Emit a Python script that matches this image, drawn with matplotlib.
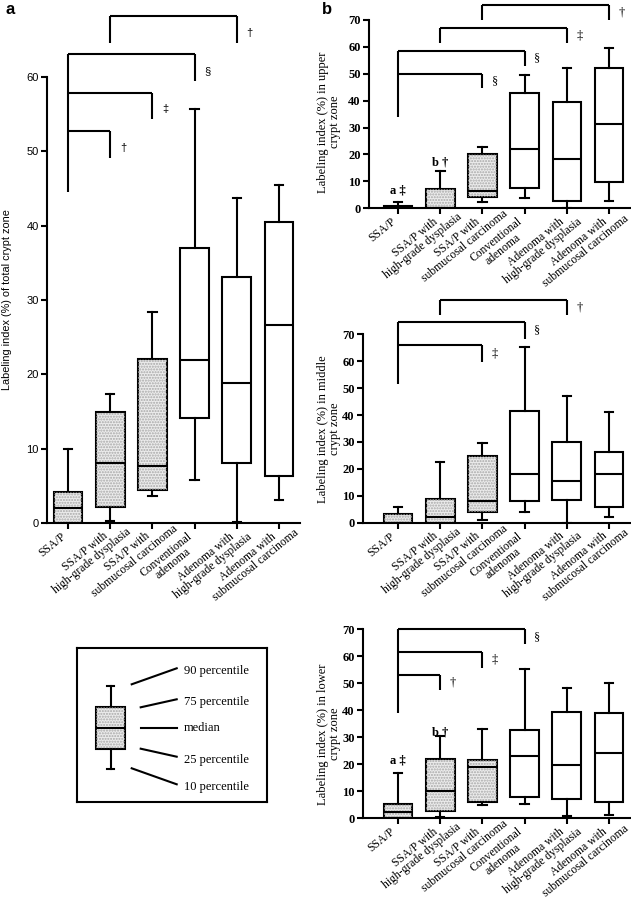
import math
import matplotlib
matplotlib.use("Agg")
import matplotlib.pyplot as plt
from matplotlib.patches import Rectangle
from matplotlib.font_manager import FontProperties
from matplotlib.transforms import offset_copy

# ---------------- data ----------------
categories = ["SSA/P", "SSA/P with\nhigh-grade dysplasia", "SSA/P with\nsubmucosal carcinoma",
              "Conventional\nadenoma", "Adenoma with\nhigh-grade dysplasia", "Adenoma with\nsubmucosal carcinoma"]
stippled = [True, True, True, False, False, False]

# panel a: total crypt zone  (p10, q1, median, q3, p90)
total_p10 = [0.0, 0.3, 3.6, 5.8, 0.2, 3.1]
total_q1 = [0.0, 2.1, 4.4, 14.1, 8.1, 6.3]
total_med = [2.0, 8.1, 7.7, 21.9, 18.8, 26.6]
total_q3 = [4.2, 14.9, 22.1, 37.0, 33.1, 40.5]
total_p90 = [10.0, 17.4, 28.4, 55.7, 43.7, 45.5]

# panel b upper crypt zone
upper_p10 = [0.0, 0.0, 2.5, 3.8, 0.0, 2.6]
upper_q1 = [0.0, 0.0, 4.3, 7.5, 2.6, 9.7]
upper_med = [0.3, 0.0, 6.3, 21.9, 18.3, 31.2]
upper_q3 = [1.0, 7.3, 20.2, 42.7, 39.4, 52.0]
upper_p90 = [2.5, 13.9, 22.9, 49.4, 52.0, 59.5]

# panel b middle crypt zone
middle_p10 = [0.0, 0.0, 1.0, 4.0, 0.0, 2.2]
middle_q1 = [0.0, 0.0, 4.0, 8.0, 8.4, 5.8]
middle_med = [0.0, 2.2, 8.0, 18.1, 15.5, 18.2]
middle_q3 = [3.2, 8.8, 24.7, 41.6, 30.0, 26.4]
middle_p90 = [5.7, 22.5, 29.7, 65.4, 47.0, 41.0]

# panel b lower crypt zone
lower_p10 = [0.0, 0.6, 4.8, 5.2, 0.9, 1.3]
lower_q1 = [0.0, 2.7, 6.1, 8.0, 7.3, 6.1]
lower_med = [2.4, 10.1, 19.0, 23.0, 19.6, 24.2]
lower_q3 = [5.2, 22.0, 21.6, 32.7, 39.4, 39.0]
lower_p90 = [16.7, 30.5, 33.1, 55.4, 48.4, 50.0]

# significance brackets: (left group, right group, bar height, left foot, right foot, symbol)
total_brackets = [(0, 1, 52.8, None, 49.1, "\u2020"), (0, 2, 57.9, None, 54.4, "\u2021"),
                  (0, 3, 63.1, 44.5, 59.5, "\u00a7"), (1, 4, 68.2, 64.6, 64.6, "\u2020")]
upper_brackets = [(0, 2, 50.1, None, 44.6, "\u00a7"), (0, 3, 58.6, 33.8, 53.0, "\u00a7"),
                  (1, 4, 66.9, 61.3, 61.3, "\u2021"), (2, 5, 75.7, 70.0, 70.0, "\u2020")]
middle_brackets = [(0, 2, 66.0, None, 59.8, "\u2021"), (0, 3, 74.5, 51.6, 68.2, "\u00a7"),
                   (1, 4, 82.7, 77.2, 77.2, "\u2020")]
lower_brackets = [(0, 1, 53.0, None, 47.5, "\u2020"), (0, 2, 61.5, None, 55.8, "\u2021"),
                  (0, 3, 70.0, 38.9, 64.4, "\u00a7")]

# group letters above boxes
upper_marks = [(0, 6.8, "a \u2021"), (1, 17.2, "b \u2020")]
lower_marks = [(0, 21.3, "a \u2021"), (1, 31.8, "b \u2020")]

legend_labels = ["90 percentile", "75 percentile", "median", "25 percentile", "10 percentile"]

# ---------------- style ----------------
SERIF = ["Liberation Serif", "DejaVu Serif"]
SANS = ["Liberation Sans", "DejaVu Sans"]
LW = 1.5
W, H = 631, 898
fig = plt.figure(figsize=(W / 100, H / 100), dpi=100)
renderer = fig.canvas.get_renderer()


def px_axes(left, right, top, bottom):
    return fig.add_axes([left / W, 1 - bottom / H, (right - left) / W, (bottom - top) / H])


def draw_boxes(ax, p10, q1, med, q3, p90):
    stats = [dict(whislo=a, q1=b, med=c, q3=d, whishi=e, fliers=[])
             for a, b, c, d, e in zip(p10, q1, med, q3, p90)]
    res = ax.bxp(stats, positions=range(len(stats)), widths=0.68, capwidths=0.2,
                 patch_artist=True, showfliers=False,
                 boxprops=dict(facecolor="white", edgecolor="black", linewidth=LW),
                 medianprops=dict(color="black", linewidth=LW),
                 whiskerprops=dict(color="black", linewidth=LW),
                 capprops=dict(color="black", linewidth=LW))
    for i, box in enumerate(res["boxes"]):
        if stippled[i]:
            box.set_facecolor("#ececec")
            ax.add_patch(Rectangle((i - 0.34, q1[i]), 0.68, q3[i] - q1[i], facecolor="none",
                                   edgecolor="#a8a8a8", hatch="......", linewidth=0, zorder=2.05))


def draw_brackets(ax, brackets, fs, font, dx=0.25, dy=-1.5):
    for g0, g1, yh, f0, f1, sym in brackets:
        kw = dict(color="black", linewidth=LW, clip_on=False, solid_capstyle="butt")
        ax.plot([g0, g1], [yh, yh], **kw)
        if f0 is not None:
            ax.plot([g0, g0], [f0, yh], **kw)
        ax.plot([g1, g1], [yh, f1], **kw)
        ax.text(g1 + dx, yh + dy - (yh - f1) / 2, sym, fontsize=fs, family=font,
                ha="center", va="center", clip_on=False)


def category_labels(ax, fs=8.4, angle=39, dx=-4, dy=-12, lead=11.3):
    """First line ends just left of/below the tick; the second line is centred under it."""
    prop = FontProperties(family=SERIF, size=fs)
    th = math.radians(angle)
    base = ax.get_xaxis_transform()
    for i, lab in enumerate(categories):
        lines = lab.split("\n")
        w1, _, _ = renderer.get_text_width_height_descent(lines[0], prop, ismath=False)
        ax.text(i, 0, lines[0], fontproperties=prop, rotation=angle, rotation_mode="anchor",
                ha="right", va="center", transform=offset_copy(base, fig=fig, x=dx, y=dy, units="dots"),
                clip_on=False)
        if len(lines) > 1:
            cx = dx - (w1 / 2) * math.cos(th) + lead * math.sin(th)
            cy = dy - (w1 / 2) * math.sin(th) - lead * math.cos(th)
            ax.text(i, 0, lines[1], fontproperties=prop, rotation=angle, rotation_mode="anchor",
                    ha="center", va="center", transform=offset_copy(base, fig=fig, x=cx, y=cy, units="dots"),
                    clip_on=False)


def style_axes(ax, ytop, xlim, yticks, tickfont, tickfs, tickweight):
    ax.set_xlim(*xlim)
    ax.set_ylim(0, ytop)
    for s in ("top", "right"):
        ax.spines[s].set_visible(False)
    ax.spines["left"].set_bounds(0, yticks[-1])
    ax.spines["left"].set_linewidth(LW)
    ax.spines["bottom"].set_linewidth(LW)
    ax.set_yticks(yticks)
    ax.set_yticklabels([str(t) for t in yticks], family=tickfont, fontsize=tickfs, fontweight=tickweight)
    ax.tick_params(axis="both", direction="out", length=4, width=LW, pad=2)
    ax.set_xticks(range(len(categories)))
    ax.set_xticklabels([])
    category_labels(ax)
    ax.patch.set_alpha(0)


# ---------------- panel a ----------------
axa = px_axes(47, 300, 10, 523)
draw_boxes(axa, total_p10, total_q1, total_med, total_q3, total_p90)
style_axes(axa, 513 / 7.433, (-0.5, 5.5), [0, 10, 20, 30, 40, 50, 60], SANS, 8, "normal")
draw_brackets(axa, total_brackets, 8, SANS, dx=0.3, dy=-0.5)
axa.set_ylabel("Labeling index (%) of total crypt zone", family=SANS, fontsize=7.8)
axa.yaxis.set_label_coords((12 - 47) / 253, (523 - 300) / 513)

# ---------------- panel b ----------------
ylab_b = ["Labeling index (%) in upper\ncrypt zone", "Labeling index (%) in middle\ncrypt zone",
          "Labeling index (%) in lower\ncrypt zone"]
axu = px_axes(369, 631, 2, 208.3)
draw_boxes(axu, upper_p10, upper_q1, upper_med, upper_q3, upper_p90)
style_axes(axu, 206.3 / 2.690, (-0.69, 5.52), [0, 10, 20, 30, 40, 50, 60, 70], SERIF, 9, "bold")
draw_brackets(axu, upper_brackets, 9, SERIF, dx=0.3, dy=0)
for g, y, t in upper_marks:
    axu.text(g, y, t, family=SERIF, fontsize=9, fontweight="bold", ha="center", va="center")

axm = px_axes(363, 631, 295, 522.7)
draw_boxes(axm, middle_p10, middle_q1, middle_med, middle_q3, middle_p90)
style_axes(axm, 227.7 / 2.691, (-0.83, 5.52), [0, 10, 20, 30, 40, 50, 60, 70], SERIF, 9, "bold")
draw_brackets(axm, middle_brackets, 9, SERIF, dx=0.3, dy=0)

axl = px_axes(363, 631, 624, 818.3)
draw_boxes(axl, lower_p10, lower_q1, lower_med, lower_q3, lower_p90)
style_axes(axl, 194.3 / 2.70, (-0.83, 5.52), [0, 10, 20, 30, 40, 50, 60, 70], SERIF, 9, "bold")
draw_brackets(axl, lower_brackets, 9, SERIF, dx=0.3, dy=0)
for g, y, t in lower_marks:
    axl.text(g, y, t, family=SERIF, fontsize=9, fontweight="bold", ha="center", va="center")

for ax, lab, yc in zip([axu, axm, axl], ylab_b, [122, 429, 734]):
    bb = ax.get_position()
    yfrac = ((1 - yc / H) - bb.y0) / bb.height
    xfrac = ((341 / W) - bb.x0) / bb.width
    ax.set_ylabel(lab, family=SERIF, fontsize=9, linespacing=1.0)
    ax.yaxis.set_label_coords(xfrac, yfrac)

# panel letters
fig.text(5 / W, 1 - 10 / H, "a", family=SANS, fontsize=12, fontweight="bold", va="center", ha="left")
fig.text(322 / W, 1 - 10 / H, "b", family=SANS, fontsize=12, fontweight="bold", va="center", ha="left")

# ---------------- legend key ----------------
axk = px_axes(76.7, 266.7, 648.3, 802.3)
key_stats = [dict(whislo=33, q1=53.3, med=74, q3=95.6, whishi=116.6, fliers=[])]
kres = axk.bxp(key_stats, positions=[34], widths=29, capwidths=6.5, patch_artist=True, showfliers=False,
               boxprops=dict(facecolor="#ececec", edgecolor="black", linewidth=LW),
               medianprops=dict(color="black", linewidth=LW),
               whiskerprops=dict(color="black", linewidth=LW),
               capprops=dict(color="black", linewidth=LW))
axk.add_patch(Rectangle((34 - 14.5, 53.3), 29, 95.6 - 53.3, facecolor="none", edgecolor="#a8a8a8",
                        hatch="......", linewidth=0, zorder=2.05))
leader_start = [(55, 118), (64, 95), (64, 74), (64, 53.6), (55, 34)]
leader_end = [(100, 134), (100, 103), (100, 74), (100, 45.6), (100, 18)]
for (x0, y0), (x1, y1), lab in zip(leader_start, leader_end, legend_labels):
    axk.plot([x0, x1], [y0, y1], color="black", linewidth=LW)
    axk.text(107, y1 - 3 if lab != "median" else y1, lab, family=SERIF, fontsize=9, ha="left", va="center")
axk.set_xlim(0, 190)
axk.set_ylim(0, 154)
axk.set_xticks([])
axk.set_yticks([])
for s in axk.spines.values():
    s.set_linewidth(LW)

fig.savefig("out.png", dpi=100)
